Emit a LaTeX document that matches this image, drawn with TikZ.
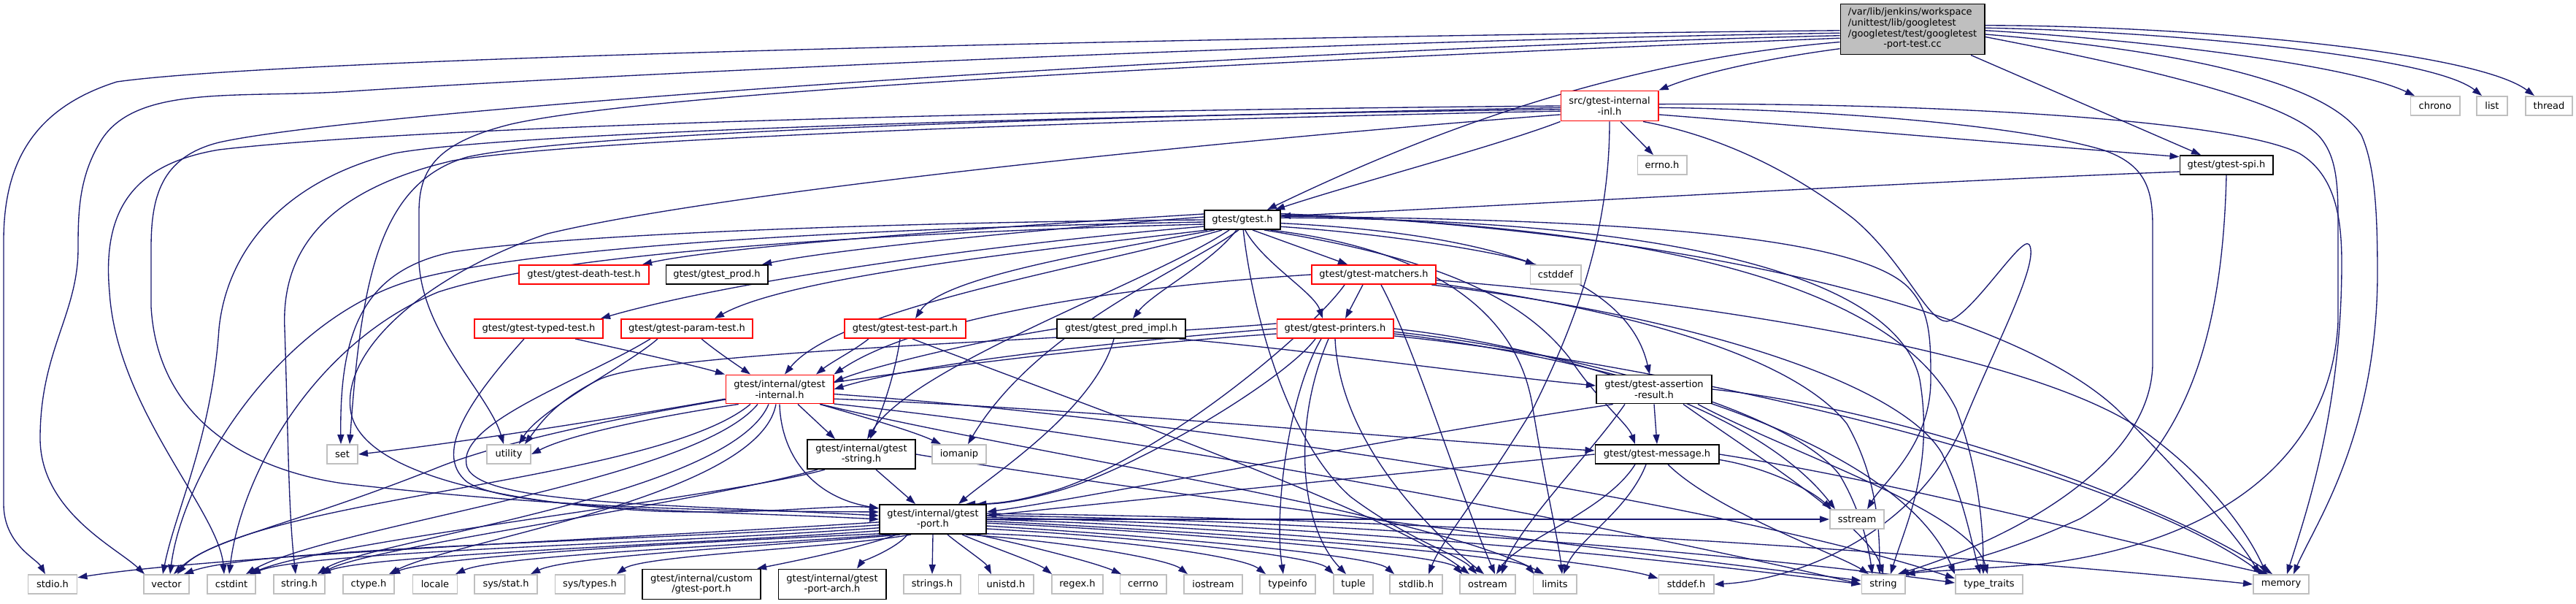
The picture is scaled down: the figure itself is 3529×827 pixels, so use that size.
\documentclass[tikz,border=0pt]{standalone}
\usepackage{fontspec}
\setmainfont{DejaVu Sans}
\usetikzlibrary{arrows.meta}
\pgfdeclarelayer{bg}
\pgfsetlayers{bg,main}
\definecolor{edgeblue}{HTML}{191970}
\definecolor{sysgray}{HTML}{BFBFBF}
\definecolor{rootfill}{HTML}{BFBFBF}
\begin{document}
\begin{tikzpicture}[x=0.01cm,y=-0.01cm,
  lbl/.style={font=\fontsize{3.7pt}{4.1pt}\selectfont, inner sep=0pt, minimum height=0.26cm, align=center, fill=white, line width=0.55pt},
  redbox/.style={lbl, draw=red},
  blackbox/.style={lbl, draw=black},
  sysbox/.style={lbl, draw=sysgray},
  e/.style={draw=edgeblue, line width=0.38pt, -{Triangle[length=0.13cm,width=0.09cm]}}]
\useasboundingbox (0,0) rectangle (3529,827);
% ---------------- nodes ----------------
\node[lbl, draw=black, fill=rootfill, minimum width=1.97cm, minimum height=0.69cm, font=\fontsize{3.7pt}{4.18pt}\selectfont] (root) at (2620,40)
 {\begin{tabular}{@{}l@{}}/var/lib/jenkins/workspace\\/unittest/lib/googletest\\/googletest/test/googletest\\\multicolumn{1}{@{}c@{}}{-port-test.cc}\end{tabular}};
\node[redbox, minimum width=1.33cm, minimum height=0.41cm] (inl) at (2205,145) {src/gtest-internal\\-inl.h};
\node[sysbox, minimum width=0.67cm] (errno) at (2277,226) {errno.h};
\node[blackbox, minimum width=1.27cm] (spi) at (3050,226) {gtest/gtest-spi.h};
\node[sysbox, minimum width=0.67cm] (chrono) at (3336,145) {chrono};
\node[sysbox, minimum width=0.42cm] (list) at (3414,145) {list};
\node[sysbox, minimum width=0.64cm] (thread) at (3492,145) {thread};
\node[blackbox, minimum width=1.04cm] (gtest) at (1702,301) {gtest/gtest.h};
\node[redbox, minimum width=1.77cm] (death) at (800,376) {gtest/gtest-death-test.h};
\node[blackbox, minimum width=1.39cm] (prod) at (982,376) {gtest/gtest\_prod.h};
\node[redbox, minimum width=1.70cm] (matchers) at (1882,376) {gtest/gtest-matchers.h};
\node[sysbox, minimum width=0.69cm] (cstddef) at (2131,376) {cstddef};
\node[redbox, minimum width=1.76cm] (typed) at (738,450) {gtest/gtest-typed-test.h};
\node[redbox, minimum width=1.80cm] (param) at (941,450) {gtest/gtest-param-test.h};
\node[redbox, minimum width=1.65cm] (testpart) at (1240,450) {gtest/gtest-test-part.h};
\node[blackbox, minimum width=1.75cm] (pred) at (1536,450) {gtest/gtest\_pred\_impl.h};
\node[redbox, minimum width=1.59cm] (printers) at (1829,450) {gtest/gtest-printers.h};
\node[redbox, minimum width=1.47cm, minimum height=0.39cm] (internal) at (1068,533) {gtest/internal/gtest\\-internal.h};
\node[blackbox, minimum width=1.58cm, minimum height=0.39cm] (assertion) at (2266,533) {gtest/gtest-assertion\\-result.h};
\node[sysbox, minimum width=0.42cm] (set) at (469,622) {set};
\node[sysbox, minimum width=0.60cm] (utility) at (697,622) {utility};
\node[blackbox, minimum width=1.48cm, minimum height=0.40cm] (gstring) at (1180,622) {gtest/internal/gtest\\-string.h};
\node[sysbox, minimum width=0.74cm] (iomanip) at (1314,622) {iomanip};
\node[blackbox, minimum width=1.69cm] (message) at (2270,622) {gtest/gtest-message.h};
\node[blackbox, minimum width=1.46cm, minimum height=0.40cm] (port) at (1278,711) {gtest/internal/gtest\\-port.h};
\node[sysbox, minimum width=0.74cm] (sstream) at (2544,711) {sstream};
\node[sysbox, minimum width=0.67cm] (stdio) at (72,800) {stdio.h};
\node[sysbox, minimum width=0.62cm] (vector) at (228,800) {vector};
\node[sysbox, minimum width=0.66cm] (cstdint) at (317,800) {cstdint};
\node[sysbox, minimum width=0.70cm] (stringh) at (410,800) {string.h};
\node[sysbox, minimum width=0.70cm] (ctype) at (505,800) {ctype.h};
\node[sysbox, minimum width=0.61cm] (locale) at (596,800) {locale};
\node[sysbox, minimum width=0.86cm] (sysstat) at (693,800) {sys/stat.h};
\node[sysbox, minimum width=0.95cm] (systypes) at (808,800) {sys/types.h};
\node[blackbox, minimum width=1.62cm, minimum height=0.41cm] (custom) at (961,800) {gtest/internal/custom\\/gtest-port.h};
\node[blackbox, minimum width=1.47cm, minimum height=0.41cm] (arch) at (1140,800) {gtest/internal/gtest\\-port-arch.h};
\node[sysbox, minimum width=0.78cm] (strings) at (1277,800) {strings.h};
\node[sysbox, minimum width=0.75cm] (unistd) at (1378,800) {unistd.h};
\node[sysbox, minimum width=0.70cm] (regex) at (1476,800) {regex.h};
\node[sysbox, minimum width=0.63cm] (cerrno) at (1566,800) {cerrno};
\node[sysbox, minimum width=0.80cm] (iostream) at (1662,800) {iostream};
\node[sysbox, minimum width=0.76cm] (typeinfo) at (1764,800) {typeinfo};
\node[sysbox, minimum width=0.54cm] (tuple) at (1854,800) {tuple};
\node[sysbox, minimum width=0.72cm] (stdlib) at (1940,800) {stdlib.h};
\node[sysbox, minimum width=0.76cm] (ostream) at (2038,800) {ostream};
\node[sysbox, minimum width=0.59cm] (limits) at (2130,800) {limits};
\node[sysbox, minimum width=0.75cm] (stddef) at (2310,800) {stddef.h};
\node[sysbox, minimum width=0.59cm] (string) at (2580,800) {string};
\node[sysbox, minimum width=0.92cm] (typetraits) at (2725,800) {type\_traits};
\node[sysbox, minimum width=0.76cm] (memory) at (3125,800) {memory};
% ---------------- edges ----------------
\begin{pgfonlayer}{bg}
\fill[white] (0,0) rectangle (3529,827);
% root
\draw[e] (root.181) .. controls (1700,50) and (400,78) .. (160,112) .. controls (40,150) and (5,230) .. (5,330) -- (5,690) .. controls (5,745) and (50,765) .. ([xshift=-0.1cm]stdio.north);
\draw[e] (root.183) .. controls (1700,58) and (700,110) .. (480,125) .. controls (330,135) and (190,115) .. (140,190) .. controls (108,240) and (107,290) .. (107,340) .. controls (107,430) and (55,480) .. (55,600) .. controls (55,700) and (160,750) .. ([xshift=-0.3cm]vector.north);
\draw[e] (root.185) .. controls (1700,68) and (500,150) .. (300,195) .. controls (220,215) and (207,270) .. (207,340) -- (207,420) .. controls (215,560) and (320,640) .. (470,662) .. controls (800,700) and (1050,700) .. ([yshift=0.1cm]port.west);
\draw[e] (root.187) .. controls (1700,85) and (900,125) .. (700,170) .. controls (600,195) and (574,230) .. (574,290) -- (574,360) .. controls (580,460) and (670,540) .. ([xshift=-0.07cm]utility.north);
\draw[e] (root.190) .. controls (2250,80) and (2000,160) .. ([xshift=0.34cm]gtest.north);
\draw[e] (root.195) .. controls (2420,80) and (2330,100) .. (inl.north east);
\draw[e] (root.3) .. controls (3000,35) and (3390,70) .. ([xshift=-0.2cm]thread.north);
\draw[e] (root.1) .. controls (2950,42) and (3330,75) .. ([xshift=-0.14cm]list.north);
\draw[e] (root.359) .. controls (2900,52) and (3210,85) .. ([xshift=-0.28cm]chrono.north);
\draw[e] (root.356) .. controls (3000,70) and (3190,115) .. (3235,185) .. controls (3255,230) and (3257,300) .. (3257,380) .. controls (3255,600) and (3170,720) .. ([xshift=0.17cm]memory.north);
\draw[e] (root.354) .. controls (2950,95) and (3140,140) .. (3180,190) .. controls (3200,215) and (3203,250) .. (3203,300) -- (3203,440) .. controls (3195,620) and (3050,740) .. (2800,772) .. controls (2700,780) and (2640,782) .. (string.north east);
\draw[e] ([xshift=0.8cm]root.south) -- ([xshift=-0.35cm]spi.north);
% inl
\draw[e] ([xshift=0.15cm]inl.south) -- ([xshift=-0.12cm]errno.north);
\draw[e] (inl.south west) .. controls (2050,200) and (1860,250) .. ([xshift=0.45cm]gtest.north);
\draw[e] (inl.350) .. controls (2500,175) and (2800,200) .. (spi.170);
\draw[e] (inl.358) .. controls (2500,150) and (2760,170) .. (2880,205) .. controls (2940,225) and (2949,260) .. (2949,310) -- (2949,500) .. controls (2945,640) and (2750,740) .. ([xshift=0.2cm]string.north);
\draw[e] (inl.2) .. controls (2600,140) and (3050,160) .. (3150,210) .. controls (3200,240) and (3208,300) .. (3208,360) .. controls (3208,560) and (3160,700) .. ([xshift=0.08cm]memory.north);
\draw[e] (inl.335) .. controls (2350,185) and (2450,230) .. (2540,300) .. controls (2610,360) and (2640,440) .. (2667,440) .. controls (2700,435) and (2770,320) .. (2780,335) .. controls (2795,360) and (2730,480) .. (2690,580) .. controls (2620,740) and (2450,795) .. (stddef.east);
\draw[e] (inl.south) .. controls (2205,300) and (2170,420) .. (2100,560) .. controls (2020,690) and (1975,740) .. ([xshift=0.17cm]stdlib.north);
\draw[e] (inl.182) .. controls (1500,160) and (800,180) .. (640,215) .. controls (520,250) and (495,380) .. ([xshift=0.1cm]set.north);
\draw[e] (inl.184) .. controls (1500,158) and (700,180) .. (540,210) .. controls (380,250) and (310,350) .. (300,450) .. controls (290,600) and (240,700) .. ([xshift=-0.05cm]vector.north);
\draw[e] (inl.180) .. controls (1500,150) and (600,170) .. (300,205) .. controls (180,225) and (140,290) .. (150,400) .. controls (160,560) and (300,700) .. ([xshift=-0.1cm]cstdint.north);
\draw[e] (inl.186) .. controls (1500,165) and (800,190) .. (620,220) .. controls (450,260) and (385,340) .. (390,450) .. controls (395,600) and (395,700) .. ([xshift=-0.05cm]stringh.north);
\draw[e] (inl.190) .. controls (1700,190) and (1000,260) .. (750,320) .. controls (600,370) and (470,470) .. (480,560) .. controls (490,650) and (700,690) .. (900,700) .. controls (1050,705) and (1150,690) .. ([yshift=0.15cm]port.west);
% gtest
\draw[e] ([yshift=0.08cm]gtest.west) .. controls (1450,305) and (1000,335) .. ([xshift=0.8cm]death.north);
\draw[e] ([yshift=0.04cm]gtest.west) .. controls (1450,312) and (1150,340) .. ([xshift=0.62cm]prod.north);
\draw[e] ([yshift=-0.09cm]gtest.west) .. controls (1350,335) and (1000,385) .. ([xshift=0.85cm]typed.north);
\draw[e] ([xshift=0.05cm]gtest.south west) .. controls (1400,345) and (1080,380) .. ([xshift=0.38cm]param.north);
\draw[e] ([xshift=0.15cm]gtest.south west) .. controls (1500,345) and (1290,380) .. ([xshift=0.14cm]testpart.north);
\draw[e] (gtest.240) .. controls (1660,360) and (1580,400) .. ([xshift=0.16cm]pred.north);
\draw[e] (gtest.285) .. controls (1730,360) and (1800,400) .. ([xshift=-0.17cm]printers.north);
\draw[e] (gtest.315) -- ([xshift=-0.36cm]matchers.north);
\draw[e] (gtest.350) .. controls (1900,320) and (2050,345) .. ([xshift=-0.28cm]cstddef.north);
\draw[e] ([xshift=0.25cm]gtest.south west) .. controls (1500,365) and (1150,420) .. ([xshift=0.07cm]internal.north);
\draw[e] ([xshift=0.35cm]gtest.south west) .. controls (1580,385) and (1250,500) .. ([xshift=0.08cm]gstring.north);
\draw[e] (gtest.250) .. controls (1620,370) and (1420,450) .. ([xshift=0.12cm]iomanip.north);
\draw[e] (gtest.west) .. controls (1300,303) and (800,318) .. (620,345) .. controls (500,370) and (465,450) .. ([xshift=-0.02cm]set.north);
\draw[e] ([yshift=-0.03cm]gtest.west) .. controls (1300,310) and (750,330) .. (560,385) .. controls (380,440) and (250,650) .. ([xshift=0.05cm]vector.north);
\draw[e] ([yshift=-0.06cm]gtest.west) .. controls (1300,316) and (780,340) .. (600,400) .. controls (430,470) and (330,650) .. ([xshift=-0.03cm]cstdint.north);
\draw[e] (gtest.5) .. controls (2200,300) and (2560,320) .. (2620,400) .. controls (2645,430) and (2645,470) .. (2645,520) .. controls (2645,610) and (2580,660) .. ([xshift=0.14cm]sstream.north);
\draw[e] (gtest.3) .. controls (2300,300) and (2600,380) .. (2630,520) .. controls (2650,640) and (2610,720) .. ([xshift=0.1cm]string.north);
\draw[e] (gtest.7) .. controls (2300,310) and (2600,400) .. (2680,560) .. controls (2710,640) and (2717,720) .. ([xshift=-0.08cm]typetraits.north);
\draw[e] (gtest.9) .. controls (2300,315) and (2750,420) .. (2900,560) .. controls (3000,660) and (3070,740) .. ([xshift=-0.3cm]memory.north);
\draw[e] (gtest.340) .. controls (1950,340) and (2080,420) .. (2100,560) .. controls (2120,680) and (2135,740) .. ([xshift=0.1cm]limits.north);
\draw[e] (gtest.275) .. controls (1715,420) and (1760,600) .. (1850,680) .. controls (1930,740) and (2000,760) .. ([xshift=-0.15cm]ostream.north);
\draw[e] (gtest.335) .. controls (1950,350) and (2080,400) .. (2150,490) .. controls (2190,550) and (2230,580) .. ([xshift=-0.3cm]message.north);
\draw[e] (gtest.355) .. controls (2050,320) and (2230,380) .. ([xshift=-0.06cm]assertion.north);
% matchers
\draw[e] ([xshift=-0.15cm]matchers.south) -- ([xshift=0.14cm]printers.north);
\draw[e] (matchers.west) .. controls (1500,395) and (1250,440) .. (internal.north east);
\draw[e] ([xshift=-0.4cm]matchers.south) .. controls (1800,450) and (1600,620) .. (1450,670) .. controls (1400,685) and (1370,690) .. ([xshift=0.45cm]port.north);
\draw[e] ([xshift=0.1cm]matchers.south) .. controls (1940,480) and (1990,650) .. ([xshift=0.1cm]ostream.north);
\draw[e] (matchers.355) .. controls (2300,410) and (2800,480) .. (2950,600) .. controls (3030,660) and (3080,730) .. ([xshift=-0.2cm]memory.north);
\draw[e] (matchers.352) .. controls (2200,420) and (2450,480) .. (2530,580) .. controls (2570,650) and (2575,720) .. ([xshift=-0.05cm]string.north);
\draw[e] (matchers.350) .. controls (2300,430) and (2600,520) .. (2660,620) .. controls (2690,680) and (2700,740) .. ([xshift=-0.12cm]typetraits.north);
% printers
\draw[e] (printers.west) .. controls (1500,470) and (1250,500) .. (internal.east);
\draw[e] (printers.175) .. controls (1500,465) and (900,480) .. (820,520) .. controls (760,550) and (740,580) .. ([xshift=0.22cm]utility.north);
\draw[e] (printers.185) .. controls (1400,480) and (800,560) .. (600,640) .. controls (400,720) and (280,740) .. ([xshift=0.15cm]vector.north);
\draw[e] ([xshift=-0.27cm]printers.south) .. controls (1760,520) and (1560,640) .. (1450,672) .. controls (1400,686) and (1370,690) .. ([xshift=0.6cm]port.north);
\draw[e] ([xshift=-0.19cm]printers.south) .. controls (1765,540) and (1745,700) .. ([xshift=-0.06cm]typeinfo.north);
\draw[e] ([xshift=-0.09cm]printers.south) .. controls (1770,580) and (1780,720) .. ([xshift=-0.1cm]tuple.north);
\draw[e] ([xshift=0.0cm]printers.south) .. controls (1835,600) and (1950,720) .. ([xshift=-0.05cm]ostream.north);
\draw[e] (printers.east) .. controls (2100,470) and (2400,550) .. ([xshift=-0.3cm]sstream.north);
\draw[e] (printers.357) .. controls (2150,480) and (2450,560) .. (2520,650) .. controls (2550,700) and (2560,750) .. ([xshift=-0.15cm]string.north);
\draw[e] (printers.355) .. controls (2200,490) and (2600,600) .. (typetraits.north west);
\draw[e] (printers.353) .. controls (2300,500) and (2900,640) .. ([xshift=-0.25cm]memory.north);
% pred
\draw[e] (pred.350) .. controls (1800,480) and (2000,510) .. ([yshift=0.05cm]assertion.west);
\draw[e] (pred.west) .. controls (1350,465) and (1200,500) .. ([yshift=0.1cm]internal.east);
\draw[e] ([xshift=-0.1cm]pred.south) .. controls (1500,560) and (1360,650) .. ([xshift=0.35cm]port.north);
% testpart
\draw[e] ([xshift=-0.5cm]testpart.south) .. controls (1170,480) and (1140,495) .. ([xshift=0.5cm]internal.north);
\draw[e] ([xshift=-0.07cm]testpart.south) .. controls (1225,520) and (1205,570) .. ([xshift=0.12cm]gstring.north);
\draw[e] ([xshift=0.1cm]testpart.south) .. controls (1500,560) and (1900,700) .. ([xshift=-0.25cm]ostream.north);
% param
\draw[e] ([xshift=0.2cm]param.south) .. controls (980,480) and (1010,500) .. ([xshift=-0.4cm]internal.north);
\draw[e] ([xshift=-0.4cm]param.south) .. controls (860,500) and (740,560) .. ([xshift=0.14cm]utility.north);
\draw[e] ([xshift=-0.5cm]param.south) .. controls (800,520) and (620,580) .. (640,640) .. controls (660,690) and (900,690) .. ([yshift=0.05cm]port.west);
% typed
\draw[e] ([xshift=0.5cm]typed.south) .. controls (860,480) and (950,500) .. ([xshift=-0.75cm]internal.north);
\draw[e] ([xshift=-0.2cm]typed.south) .. controls (650,540) and (590,620) .. (640,660) .. controls (700,700) and (1000,700) .. (port.west);
% internal
\draw[e] (internal.190) .. controls (800,580) and (600,610) .. (set.east);
\draw[e] (internal.200) .. controls (900,570) and (780,595) .. (utility.east);
\draw[e] ([xshift=0.25cm]internal.south) -- ([xshift=-0.36cm]gstring.north);
\draw[e] ([xshift=0.55cm]internal.south) .. controls (1180,570) and (1250,590) .. ([xshift=-0.25cm]iomanip.north);
\draw[e] (internal.350) .. controls (1500,560) and (1900,600) .. ([yshift=0.05cm]message.west);
\draw[e] (internal.south) .. controls (1070,620) and (1110,680) .. ([yshift=0.15cm]port.west);
\draw[e] ([xshift=-0.4cm]internal.south) .. controls (900,660) and (350,680) .. ([xshift=0.1cm]vector.north);
\draw[e] ([xshift=-0.3cm]internal.south) .. controls (950,660) and (450,720) .. ([xshift=0.2cm]cstdint.north);
\draw[e] ([xshift=-0.15cm]internal.south) .. controls (1000,680) and (500,740) .. ([xshift=0.25cm]stringh.north);
\draw[e] ([xshift=-0.05cm]internal.south) .. controls (1040,680) and (620,740) .. ([xshift=0.28cm]ctype.north);
\draw[e] (internal.340) .. controls (1400,620) and (1950,700) .. ([xshift=-0.15cm]limits.north);
\draw[e] (internal.345) .. controls (1600,600) and (2300,740) .. (string.west);
\draw[e] (internal.355) .. controls (1700,580) and (2400,700) .. ([yshift=0.08cm]typetraits.west);
% gstring
\draw[e] ([xshift=0.2cm]gstring.south) -- ([xshift=-0.24cm]port.north);
\draw[e] ([xshift=-0.5cm]gstring.south) .. controls (1000,680) and (450,740) .. ([xshift=0.25cm]cstdint.north);
\draw[e] ([xshift=-0.6cm]gstring.south) .. controls (950,690) and (500,750) .. ([xshift=0.3cm]stringh.north);
\draw[e] (gstring.east) .. controls (1600,680) and (2350,770) .. ([yshift=0.05cm]string.west);
% assertion
\draw[e] (assertion.south) -- (message.north);
\draw[e] (assertion.200) .. controls (1900,600) and (1500,680) .. ([yshift=0.1cm]port.east);
\draw[e] ([xshift=-0.4cm]assertion.south) .. controls (2180,620) and (2080,720) .. ([xshift=0.19cm]ostream.north);
\draw[e] ([xshift=0.4cm]assertion.south) .. controls (2400,620) and (2560,720) .. (string.north);
\draw[e] ([xshift=0.6cm]assertion.south) .. controls (2450,620) and (2700,700) .. ([xshift=-0.02cm]typetraits.north);
\draw[e] (assertion.east) .. controls (2600,560) and (2950,680) .. ([xshift=-0.12cm]memory.north);
% message
\draw[e] (message.west) .. controls (1900,650) and (1500,690) .. ([yshift=0.05cm]port.east);
\draw[e] ([xshift=-0.15cm]message.south) .. controls (2230,700) and (2160,740) .. ([xshift=0.12cm]limits.north);
\draw[e] ([xshift=-0.3cm]message.south) .. controls (2200,700) and (2080,740) .. ([xshift=0.12cm]ostream.north);
\draw[e] (message.355) .. controls (2420,640) and (2480,670) .. ([xshift=-0.35cm]sstream.north);
\draw[e] ([xshift=0.15cm]message.south) .. controls (2350,700) and (2520,760) .. ([xshift=-0.2cm]string.north);
\draw[e] (message.east) .. controls (2600,660) and (2900,740) .. ([xshift=-0.18cm]memory.north);
% spi
\draw[e] (spi.188) .. controls (2600,250) and (2100,280) .. ([yshift=0.05cm]gtest.east);
\draw[e] (spi.south) .. controls (3045,450) and (3000,620) .. (2850,710) .. controls (2720,770) and (2640,780) .. ([xshift=0.22cm]string.north);
% port
\draw[e] (port.183) .. controls (900,735) and (300,760) .. (stdio.15);
\draw[e] (port.186) .. controls (900,740) and (350,750) .. ([xshift=0.24cm]vector.north);
\draw[e] (port.189) .. controls (900,745) and (420,755) .. ([xshift=0.27cm]cstdint.north);
\draw[e] (port.192) .. controls (950,745) and (500,760) .. ([xshift=0.3cm]stringh.north);
\draw[e] (port.195) .. controls (1000,740) and (600,760) .. ([xshift=0.3cm]ctype.north);
\draw[e] (port.200) .. controls (1050,745) and (680,760) .. ([xshift=0.28cm]locale.north);
\draw[e] (port.205) .. controls (1100,745) and (780,760) .. ([xshift=0.34cm]sysstat.north);
\draw[e] (port.215) .. controls (1150,750) and (880,760) .. ([xshift=0.37cm]systypes.north);
\draw[e] ([xshift=-0.5cm]port.south) .. controls (1180,750) and (1080,770) .. ([xshift=0.76cm]custom.north);
\draw[e] ([xshift=-0.35cm]port.south) .. controls (1230,750) and (1180,770) .. ([xshift=0.34cm]arch.north);
\draw[e] (port.south) -- (strings.north);
\draw[e] ([xshift=0.2cm]port.south) .. controls (1320,750) and (1350,770) .. ([xshift=-0.2cm]unistd.north);
\draw[e] ([xshift=0.4cm]port.south) .. controls (1360,750) and (1420,770) .. ([xshift=-0.35cm]regex.north);
\draw[e] ([xshift=0.6cm]port.south) .. controls (1400,745) and (1500,770) .. ([xshift=-0.3cm]cerrno.north);
\draw[e] (port.335) .. controls (1450,740) and (1600,765) .. ([xshift=-0.35cm]iostream.north);
\draw[e] (port.345) .. controls (1500,735) and (1700,760) .. ([xshift=-0.3cm]typeinfo.north);
\draw[e] (port.350) .. controls (1550,735) and (1800,760) .. ([xshift=-0.27cm]tuple.north);
\draw[e] (port.353) .. controls (1600,735) and (1880,760) .. ([xshift=-0.3cm]stdlib.north);
\draw[e] (port.356) .. controls (1650,730) and (1980,760) .. ([xshift=-0.35cm]ostream.north);
\draw[e] (port.358) .. controls (1700,730) and (2080,760) .. ([xshift=-0.28cm]limits.north);
\draw[e] (port.0) .. controls (1800,725) and (2200,770) .. ([yshift=0.08cm]stddef.west);
\draw[e] (port.2) .. controls (1900,720) and (2400,780) .. (string.west);
\draw[e] (port.4) .. controls (2000,715) and (2550,780) .. ([yshift=0.02cm]typetraits.west);
\draw[e] (port.6) .. controls (2100,710) and (2900,780) .. (memory.west);
\draw[e] (port.east) -- (sstream.west);
\end{pgfonlayer}
\end{tikzpicture}
\end{document}
